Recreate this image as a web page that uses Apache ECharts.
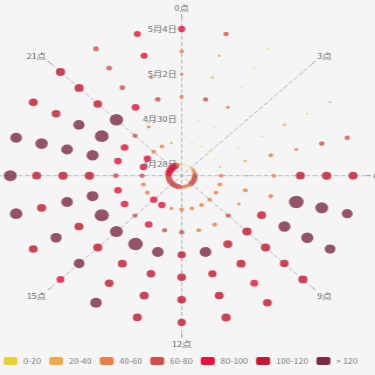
<!DOCTYPE html>
<html><head><meta charset="utf-8">
<script src="https://cdn.jsdelivr.net/npm/echarts@6/dist/echarts.min.js"></script>
<style>
html,body{margin:0;padding:0;background:#f5f5f5;overflow:hidden;width:375px;height:375px}
#main{width:321px;height:375px;transform:scaleX(1.1682);transform-origin:0 0;}
</style>
</head><body><div id="main"></div>
<script>
const hours = ['0点','1点','2点','3点','4点','5点','6点','7点','8点','9点','10点','11点','12点','13点','14点','15点','16点','17点','18点','19点','20点','21点','22点','23点'];
const days = ['4月28日','4月29日','4月30日','5月1日','5月2日','5月3日','5月4日'];
// values per day, one entry per hour (0点 .. 23点)
const apr28 = [25,15,15,30,48,58,70,74,76,72,58,58,58,74,76,78,78,78,78,88,92,96,92,50];
const apr29 = [15,12,10,12,15,25,55,58,55,55,55,52,58,48,90,90,58,58,62,90,90,58,55,35];
const apr30 = [18,15,12,15,15,38,30,58,42,62,58,58,62,62,92,62,92,92,68,92,92,62,45,25];
const may1  = [55,62,45,20,20,55,55,58,108,112,110,140,100,140,175,155,170,140,112,145,165,160,95,68];
const may2  = [42,35,15,12,38,45,108,175,145,112,110,100,105,105,108,110,108,140,112,140,135,105,68,45];
const may3  = [55,35,10,12,22,65,112,155,145,105,95,108,105,110,105,130,135,110,108,150,105,110,68,85];
const may4  = [88,62,15,15,28,62,108,130,130,110,105,112,100,108,140,95,105,150,155,140,108,112,70,85];
const pieceLabels = ['0-20','20-40','40-60','60-80','80-100','100-120','> 120'];
const pieceBounds = [0,20,40,60,80,100,120];
const pieceColors = ['#e8d23c','#f0aa4a','#e9804b','#c9524d','#e0143c','#bf1a30','#7a2b45'];

const rows = [apr28, apr29, apr30, may1, may2, may3, may4];
const data = [];
rows.forEach(function (row, d) { row.forEach(function (v, h) { data.push([d, h, v]); }); });

const pieces = pieceLabels.map(function (lab, i) {
  const p = { gte: pieceBounds[i], label: lab, color: pieceColors[i] };
  if (i < pieceBounds.length - 1) p.lt = pieceBounds[i + 1];
  return p;
});

const chart = echarts.init(document.getElementById('main'));
chart.setOption({
  backgroundColor: '#f5f5f5',
  animation: false,
  textStyle: { fontFamily: '"Noto Sans CJK SC", "Noto Sans", sans-serif' },
  polar: { center: [155.5, 175.7], radius: 158 },
  angleAxis: {
    type: 'category', data: hours, boundaryGap: false, startAngle: 90, clockwise: true,
    axisLine: { show: false },
    axisTick: { show: true, interval: 2, length: 4, lineStyle: { color: '#999' } },
    axisLabel: { interval: 2, fontSize: 8, color: '#666', margin: 6 },
    splitLine: { show: true, interval: 2, lineStyle: { color: '#b8b8c2', type: 'dashed' } }
  },
  radiusAxis: {
    type: 'category', data: days, z: 10,
    axisLine: { show: false }, axisTick: { show: false },
    axisLabel: { interval: 1, fontSize: 8, color: '#666', margin: 4 }
  },
  visualMap: {
    type: 'piecewise', orient: 'horizontal', dimension: 2,
    left: 3, top: 357, padding: 0, itemWidth: 12, itemHeight: 8, itemGap: 7, textGap: 5,
    pieces: pieces,
    textStyle: { fontSize: 7.5, color: '#777' }
  },
  series: [{
    type: 'scatter', coordinateSystem: 'polar', data: data,
    symbolSize: function (v) { return Math.max(1.5, v[2] / 14); },
    itemStyle: { opacity: 0.8 }
  }]
});
</script></body></html>
